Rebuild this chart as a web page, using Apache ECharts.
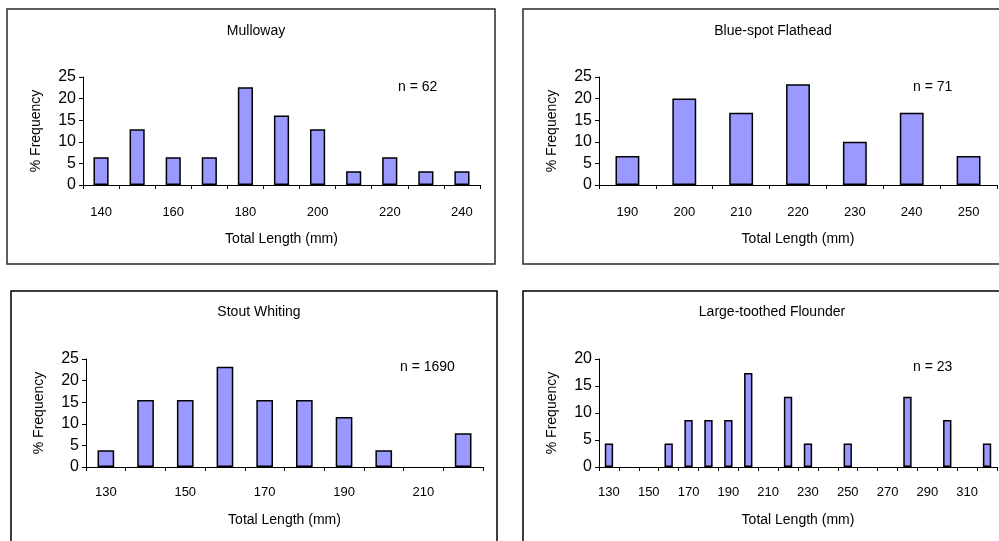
<!DOCTYPE html>
<html>
<head>
<meta charset="utf-8">
<script src="https://cdn.jsdelivr.net/npm/echarts@6/dist/echarts.min.js"></script>
<style>
html,body{margin:0;padding:0;background:#fff;}
#c{width:999px;height:541px;}
</style>
</head>
<body>
<div id="c"></div>
<script>
// ---- Data ----
var mullowayCats = ['140','150','160','170','180','190','200','210','220','230','240'];
var mullowayVals = [6.45, 12.9, 6.45, 6.45, 22.6, 16.1, 12.9, 3.2, 6.45, 3.2, 3.2];

var flatheadCats = ['190','200','210','220','230','240','250'];
var flatheadVals = [6.7, 20.0, 16.7, 23.3, 10.0, 16.7, 6.7];

var whitingCats = ['130','140','150','160','170','180','190','200','210','220'];
var whitingVals = [3.9, 15.5, 15.5, 23.2, 15.5, 15.5, 11.6, 3.9, 0, 7.8];

var flounderCats = ['130','140','150','160','170','180','190','200','210','220','230','240','250','260','270','280','290','300','310','320'];
var flounderVals = [4.35, 0, 0, 4.35, 8.7, 8.7, 8.7, 17.4, 0, 13.0, 4.35, 0, 4.35, 0, 0, 13.0, 0, 8.7, 0, 4.35];

var panelTitles = ['Mulloway', 'Blue-spot Flathead', 'Stout Whiting', 'Large-toothed Flounder'];
var nLabels = ['n = 62', 'n = 71', 'n = 1690', 'n = 23'];
var yMax = [25, 25, 25, 20];
var xLabelInterval = [1, 0, 1, 1];

var FONT = 'Liberation Sans, Arial, sans-serif';
var cats = [mullowayCats, flatheadCats, whitingCats, flounderCats];
var vals = [mullowayVals, flatheadVals, whitingVals, flounderVals];

var grids = [
  {left: 83, top: 77, width: 397, height: 108},
  {left: 599, top: 77, width: 398, height: 108},
  {left: 86, top: 359, width: 397, height: 108},
  {left: 599, top: 359, width: 398, height: 108}
];
var titlePos = [{x: 251, y: 19}, {x: 768, y: 19}, {x: 254, y: 300}, {x: 767, y: 300}];
var nPos = [{x: 393, y: 75}, {x: 908, y: 75}, {x: 395, y: 355}, {x: 908, y: 355}];
var xLabelMargin = [21, 21, 19, 19];
var xNameGap = [47, 47, 46, 46];

var option = {
  animation: false,
  backgroundColor: '#fff',
  textStyle: {fontFamily: FONT},
  title: [],
  grid: grids,
  xAxis: [],
  yAxis: [],
  series: [],
  graphic: [
    {type: 'rect', shape: {x: 7, y: 9, width: 488, height: 255}, style: {fill: 'none', stroke: '#2a2a2a', lineWidth: 1.5}, silent: true},
    {type: 'rect', shape: {x: 523, y: 9, width: 490, height: 255}, style: {fill: 'none', stroke: '#2a2a2a', lineWidth: 1.5}, silent: true},
    {type: 'rect', shape: {x: 11, y: 291, width: 486, height: 270}, style: {fill: 'none', stroke: '#000', lineWidth: 1.5}, silent: true},
    {type: 'rect', shape: {x: 523, y: 291, width: 490, height: 270}, style: {fill: 'none', stroke: '#000', lineWidth: 1.5}, silent: true}
  ]
};

for (var i = 0; i < 4; i++) {
  option.title.push({
    text: panelTitles[i], left: titlePos[i].x, top: titlePos[i].y, textAlign: 'center',
    textStyle: {fontFamily: FONT, fontSize: 14, fontWeight: 'normal', color: '#000'}
  });
  option.title.push({
    text: nLabels[i], left: nPos[i].x, top: nPos[i].y,
    textStyle: {fontFamily: FONT, fontSize: 14, fontWeight: 'normal', color: '#000'}
  });
  option.xAxis.push({
    type: 'category', gridIndex: i, data: cats[i],
    name: 'Total Length (mm)', nameLocation: 'middle', nameGap: xNameGap[i],
    nameTextStyle: {fontFamily: FONT, fontSize: 14, color: '#000'},
    axisLine: {lineStyle: {color: '#000', width: 1}},
    axisTick: {show: true, length: 4, interval: 0, lineStyle: {color: '#000'}},
    axisLabel: {interval: xLabelInterval[i], margin: xLabelMargin[i], fontFamily: FONT, fontSize: 13, color: '#000'},
    splitLine: {show: false}
  });
  option.yAxis.push({
    type: 'value', gridIndex: i, min: 0, max: yMax[i], interval: 5,
    name: '% Frequency', nameLocation: 'middle', nameGap: 40,
    nameTextStyle: {fontFamily: FONT, fontSize: 14, color: '#000'},
    axisLine: {show: true, lineStyle: {color: '#000', width: 1}},
    axisTick: {show: true, length: 4, lineStyle: {color: '#000'}},
    axisLabel: {margin: 7, fontFamily: FONT, fontSize: 16, color: '#000'},
    splitLine: {show: false}
  });
  option.series.push({
    type: 'bar', xAxisIndex: i, yAxisIndex: i,
    data: vals[i].map(function (v) { return v === 0 ? '-' : v; }),
    barCategoryGap: '58%',
    itemStyle: {color: '#9999ff', borderColor: '#000', borderWidth: 1.5}
  });
}

var chart = echarts.init(document.getElementById('c'), null, {renderer: 'canvas'});
chart.setOption(option);
</script>
</body>
</html>
